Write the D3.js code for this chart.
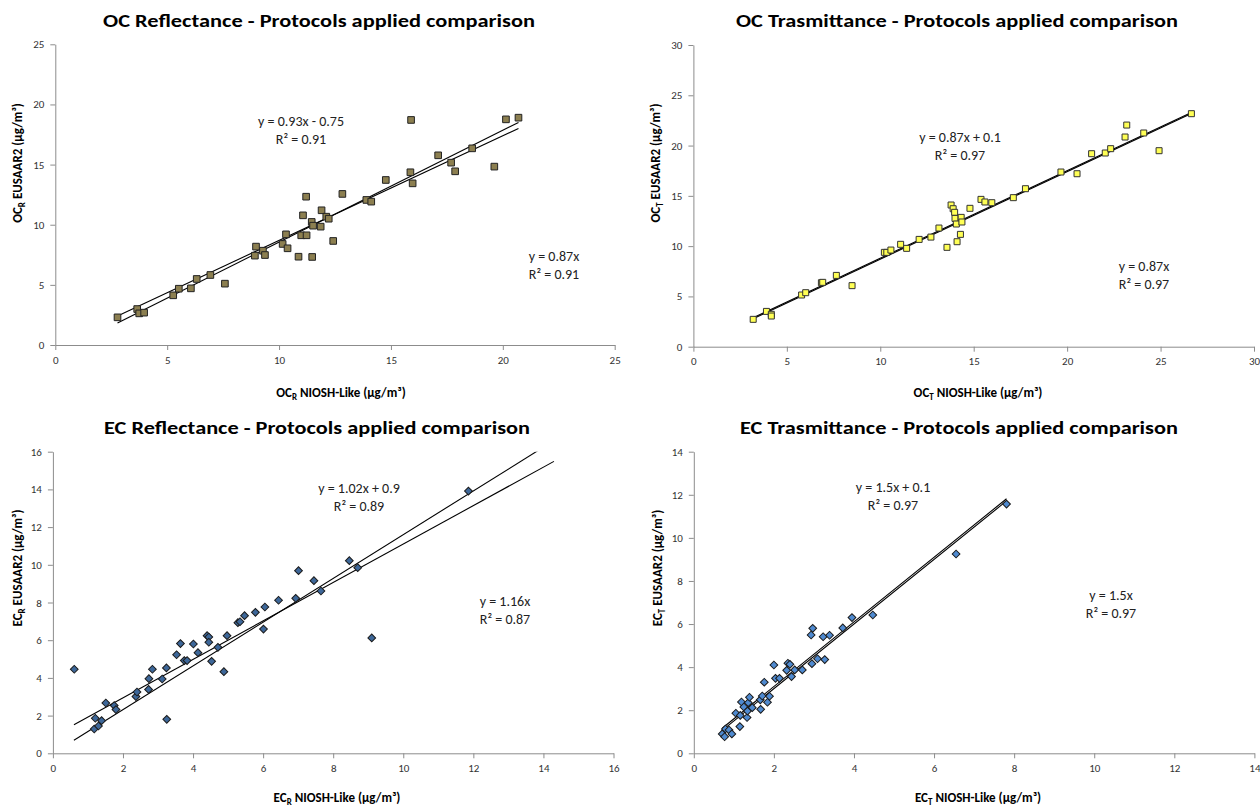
<!DOCTYPE html>
<html>
<head>
<meta charset="utf-8">
<script src="https://cdn.jsdelivr.net/npm/d3@7"></script>
<style>
  body { margin: 0; background: #fff; }
  svg { display: block; font-family: Carlito, "Liberation Sans", Arial, sans-serif; }
</style>
</head>
<body>
<div id="chart"></div>
<script>
// OC reflectance (x = NIOSH-Like, y = EUSAAR2)
const ocRx = [2.78, 3.66, 3.75, 3.97, 5.27, 5.52, 6.06, 6.32, 6.93, 7.58, 8.92, 8.97, 9.28, 9.37, 10.16, 10.31, 10.38, 10.87, 10.99, 11.07, 11.21, 11.23, 11.48, 11.46, 11.52, 11.86, 11.90, 12.11, 12.22, 12.42, 12.83, 13.90, 14.12, 14.77, 15.87, 15.90, 15.97, 17.11, 17.69, 17.87, 18.63, 19.62, 20.14, 20.70];
const ocRy = [2.30, 2.99, 2.63, 2.69, 4.13, 4.68, 4.71, 5.49, 5.82, 5.10, 7.43, 8.18, 7.84, 7.48, 8.40, 9.20, 8.04, 7.34, 9.12, 10.78, 12.33, 9.12, 7.32, 10.23, 9.92, 9.84, 11.20, 10.67, 10.50, 8.65, 12.56, 12.06, 11.92, 13.72, 14.36, 18.71, 13.44, 15.77, 15.16, 14.44, 16.35, 14.83, 18.76, 18.90];

// OC transmittance
const ocTx = [3.20, 3.91, 4.17, 4.17, 5.79, 6.01, 6.85, 6.92, 7.65, 8.49, 10.22, 10.35, 10.57, 11.09, 11.41, 12.08, 12.71, 13.14, 13.57, 13.79, 13.90, 13.98, 14.00, 14.07, 14.11, 14.29, 14.33, 14.37, 14.80, 15.39, 15.60, 15.97, 17.12, 17.77, 19.67, 20.53, 21.31, 22.04, 22.33, 23.10, 23.19, 24.10, 24.92, 26.65];
const ocTy = [2.72, 3.51, 3.22, 3.05, 5.14, 5.37, 6.36, 6.40, 7.09, 6.07, 9.38, 9.38, 9.61, 10.18, 9.78, 10.67, 10.90, 11.80, 9.88, 14.09, 13.72, 13.36, 12.76, 12.20, 10.44, 11.17, 12.86, 12.40, 13.76, 14.65, 14.39, 14.32, 14.82, 15.71, 17.37, 17.20, 19.19, 19.26, 19.69, 20.85, 22.04, 21.25, 19.49, 23.17];

// EC reflectance
const ecRx = [0.61, 1.18, 1.21, 1.30, 1.39, 1.51, 1.75, 1.80, 2.37, 2.40, 2.73, 2.74, 2.84, 3.12, 3.24, 3.25, 3.53, 3.64, 3.75, 3.83, 4.01, 4.14, 4.40, 4.45, 4.45, 4.53, 4.71, 4.88, 4.97, 5.28, 5.34, 5.47, 5.78, 6.01, 6.05, 6.44, 6.93, 7.01, 7.45, 7.65, 8.46, 8.70, 9.10, 11.86];
const ecRy = [4.46, 1.29, 1.86, 1.45, 1.73, 2.67, 2.53, 2.32, 3.01, 3.25, 3.39, 3.96, 4.46, 3.94, 4.53, 1.80, 5.23, 5.82, 4.92, 4.92, 5.80, 5.34, 6.24, 6.17, 5.89, 4.88, 5.62, 4.33, 6.24, 6.93, 6.98, 7.30, 7.48, 6.59, 7.76, 8.12, 8.22, 9.69, 9.16, 8.61, 10.22, 9.85, 6.12, 13.91];

// EC transmittance
const ecTx = [0.71, 0.77, 0.79, 0.88, 0.95, 1.05, 1.15, 1.16, 1.19, 1.25, 1.33, 1.34, 1.36, 1.39, 1.46, 1.66, 1.67, 1.71, 1.76, 1.84, 1.89, 2.00, 2.04, 2.14, 2.32, 2.35, 2.40, 2.44, 2.52, 2.71, 2.93, 2.97, 2.95, 3.09, 3.23, 3.27, 3.39, 3.72, 3.95, 4.47, 6.55, 7.81];
const ecTy = [0.90, 0.77, 1.13, 1.08, 0.90, 1.86, 1.24, 1.76, 2.38, 2.15, 1.66, 1.96, 2.35, 2.60, 2.12, 2.48, 2.04, 2.66, 3.30, 2.37, 2.65, 4.10, 3.48, 3.48, 3.85, 4.18, 4.13, 3.56, 3.87, 3.87, 5.49, 5.80, 4.16, 4.39, 5.41, 4.35, 5.48, 5.82, 6.30, 6.42, 9.25, 11.57];

// trendlines [slope, intercept] and equation labels
const ocRTrend = [[0.93, -0.75], [0.87, 0]];
const ocTTrend = [[0.87, 0.1], [0.87, 0]];
const ecRTrend = [[1.02, 0.9], [1.16, 0]];
const ecTTrend = [[1.5, 0.1], [1.5, 0]];
const ocREq = [["y = 0.93x - 0.75", "R² = 0.91"], ["y = 0.87x", "R² = 0.91"]];
const ocTEq = [["y = 0.87x + 0.1", "R² = 0.97"], ["y = 0.87x", "R² = 0.97"]];
const ecREq = [["y = 1.02x + 0.9", "R² = 0.89"], ["y = 1.16x", "R² = 0.87"]];
const ecTEq = [["y = 1.5x + 0.1", "R² = 0.97"], ["y = 1.5x", "R² = 0.97"]];

const ocRTicks = [0, 5, 10, 15, 20, 25];
const ocTTicks = [0, 5, 10, 15, 20, 25, 30];
const ecRTicks = [0, 2, 4, 6, 8, 10, 12, 14, 16];
const ecTTicks = [0, 2, 4, 6, 8, 10, 12, 14];

const width = 1260, height = 809;
const svg = d3.select("#chart").append("svg")
  .attr("width", width)
  .attr("height", height)
  .attr("viewBox", [0, 0, width, height]);
svg.append("rect").attr("width", width).attr("height", height).attr("fill", "white");

const defs = svg.append("defs");

function drawPanel(p) {
  const xScale = d3.scaleLinear().domain(d3.extent(p.ticks)).range([p.left, p.right]);
  const yScale = d3.scaleLinear().domain(d3.extent(p.ticks)).range([p.bottom, p.top]);
  const g = svg.append("g");

  defs.append("clipPath").attr("id", p.id + "-clip")
    .append("rect")
    .attr("x", p.left).attr("y", p.top)
    .attr("width", p.right - p.left).attr("height", p.bottom - p.top);

  // axes
  const xAxis = d3.axisBottom(xScale).tickValues(p.ticks).tickSize(5).tickSizeOuter(0).tickPadding(6);
  const yAxis = d3.axisLeft(yScale).tickValues(p.ticks).tickSize(5).tickSizeOuter(0).tickPadding(6);
  g.append("g")
    .attr("transform", `translate(0,${p.bottom})`)
    .call(xAxis)
    .call(a => a.select(".domain").attr("stroke", "#8c8c8c"))
    .call(a => a.selectAll(".tick line").attr("stroke", "#8c8c8c"))
    .call(a => a.selectAll(".tick text").attr("fill", "#333").attr("font-size", 11)
      .attr("font-family", "Carlito, 'Liberation Sans', sans-serif"));
  g.append("g")
    .attr("transform", `translate(${p.left},0)`)
    .call(yAxis)
    .call(a => a.select(".domain").attr("stroke", "#8c8c8c"))
    .call(a => a.selectAll(".tick line").attr("stroke", "#8c8c8c"))
    .call(a => a.selectAll(".tick text").attr("fill", "#333").attr("font-size", 11)
      .attr("font-family", "Carlito, 'Liberation Sans', sans-serif"));

  // trend lines
  const line = d3.line().x(d => xScale(d[0])).y(d => yScale(d[1]));
  const lines = g.append("g").attr("clip-path", `url(#${p.id}-clip)`);
  p.trend.forEach(([m, b]) => {
    lines.append("path")
      .attr("fill", "none")
      .attr("stroke", "#000")
      .attr("stroke-width", 1.1)
      .attr("d", line(p.trendX.map(x => [x, m * x + b])));
  });

  // markers
  const sym = d3.symbol().type(d3.symbolSquare).size(p.size);
  g.append("g")
    .selectAll("path")
    .data(d3.range(p.xs.length))
    .join("path")
    .attr("d", sym)
    .attr("transform", i => `translate(${xScale(p.xs[i])},${yScale(p.ys[i])})` + (p.diamond ? " rotate(45)" : ""))
    .attr("fill", p.fill)
    .attr("stroke", p.stroke)
    .attr("stroke-width", 1);

  // equations
  p.eq.forEach((lines2, k) => {
    const [cx, cy] = p.eqPos[k];
    lines2.forEach((t, j) => {
      g.append("text")
        .attr("x", cx).attr("y", cy + j * 17.5)
        .attr("text-anchor", "middle")
        .attr("font-size", 14)
        .attr("fill", "#222")
        .text(t);
    });
  });

  // title
  g.append("text")
    .attr("x", p.titlePos[0]).attr("y", p.titlePos[1])
    .attr("text-anchor", "middle")
    .attr("font-size", 19)
    .attr("font-weight", "bold")
    .attr("textLength", p.titleW)
    .attr("lengthAdjust", "spacingAndGlyphs")
    .text(p.title);

  // x label
  const xl = g.append("text")
    .attr("x", p.xlPos[0]).attr("y", p.xlPos[1])
    .attr("text-anchor", "middle")
    .attr("font-size", 13)
    .attr("font-weight", "bold");
  xl.append("tspan").text(p.sym);
  xl.append("tspan").attr("font-size", 9).attr("dy", 3).text(p.sub);
  xl.append("tspan").attr("dy", -3).text(" NIOSH-Like (µg/m³)");

  // y label
  const yl = g.append("text")
    .attr("transform", `translate(${p.ylPos[0]},${p.ylPos[1]}) rotate(-90)`)
    .attr("text-anchor", "middle")
    .attr("font-size", 13)
    .attr("font-weight", "bold");
  yl.append("tspan").text(p.sym);
  yl.append("tspan").attr("font-size", 9).attr("dy", 3).text(p.sub);
  yl.append("tspan").attr("dy", -3).text(" EUSAAR2 (µg/m³)");
}

drawPanel({
  id: "ocr", xs: ocRx, ys: ocRy, ticks: ocRTicks, trend: ocRTrend, trendX: [2.78, 20.7],
  left: 55.3, right: 614.7, top: 44.3, bottom: 345,
  fill: "#8c7f50", stroke: "#222", size: 44, diamond: false,
  eq: ocREq, eqPos: [[301, 126], [554, 261]],
  title: "OC Reflectance - Protocols applied comparison", titlePos: [319, 27], titleW: 432,
  sym: "OC", sub: "R", xlPos: [341, 397], ylPos: [22, 163]
});
drawPanel({
  id: "oct", xs: ocTx, ys: ocTy, ticks: ocTTicks, trend: ocTTrend, trendX: [3.2, 26.65],
  left: 693.4, right: 1254, top: 45, bottom: 346.7,
  fill: "#ffff55", stroke: "#333", size: 36, diamond: false,
  eq: ocTEq, eqPos: [[960, 142], [1144, 271]],
  title: "OC Trasmittance - Protocols applied comparison", titlePos: [957, 27], titleW: 442,
  sym: "OC", sub: "T", xlPos: [978, 397], ylPos: [660, 163]
});
drawPanel({
  id: "ecr", xs: ecRx, ys: ecRy, ticks: ecRTicks, trend: ecRTrend, trendX: [0.6, 14.3],
  left: 52.9, right: 613.5, top: 451.7, bottom: 753.3,
  fill: "#3d6799", stroke: "#1a1a1a", size: 30, diamond: true,
  eq: ecREq, eqPos: [[359, 493], [505, 606]],
  title: "EC Reflectance - Protocols applied comparison", titlePos: [317, 434], titleW: 426,
  sym: "EC", sub: "R", xlPos: [337, 802], ylPos: [22, 568]
});
drawPanel({
  id: "ect", xs: ecTx, ys: ecTy, ticks: ecTTicks, trend: ecTTrend, trendX: [0.71, 7.81],
  left: 693.8, right: 1254.4, top: 451.7, bottom: 753.3,
  fill: "#4f8ad0", stroke: "#1a1a1a", size: 30, diamond: true,
  eq: ecTEq, eqPos: [[893, 492], [1111, 600]],
  title: "EC Trasmittance - Protocols applied comparison", titlePos: [959, 434], titleW: 438,
  sym: "EC", sub: "T", xlPos: [978, 802], ylPos: [662, 568]
});
</script>
</body>
</html>
